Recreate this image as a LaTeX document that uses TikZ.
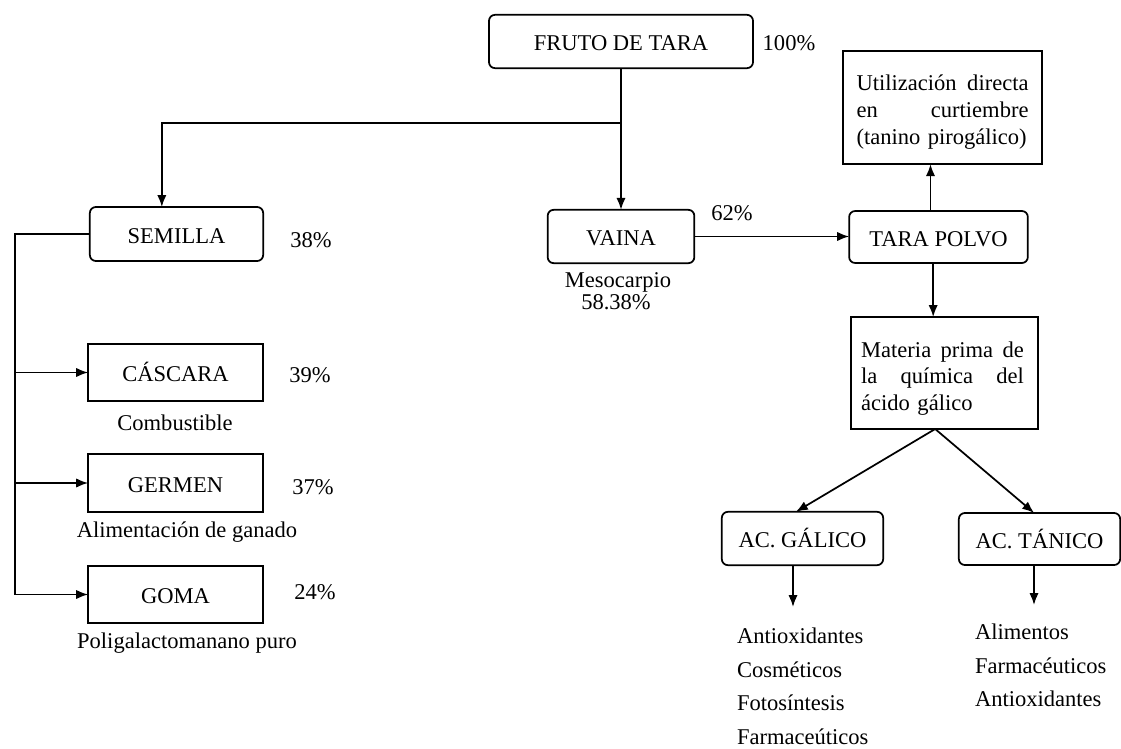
\documentclass[tikz,border=0pt]{standalone}
\usepackage{fontspec}
\setmainfont{Liberation Serif}
\usetikzlibrary{arrows.meta,calc}
\begin{document}
\begin{tikzpicture}[x=0.75pt,y=-0.75pt,
  font=\fontsize{16.9}{20}\selectfont,
  every node/.style={inner sep=0pt,outer sep=0pt},
  rbox/.style={draw,line width=1.3pt,rounded corners=4.5pt,align=center,text height=14pt,text depth=0pt},
  sbox/.style={draw,line width=1.3pt,align=center,text height=14pt,text depth=0pt},
  conn/.style={line width=1.3pt},
  arr/.style={line width=1.3pt,-{Latex[length=9pt,width=7pt]}},
  lst/.style={align=left,anchor=north west,font=\fontsize{16.9}{25.2}\selectfont}]
\useasboundingbox (0,0) rectangle (1121,749);

% main boxes
\node[rbox,minimum width=198pt,minimum height=40pt] (fruto) at (621,41.5) {FRUTO DE TARA};
\node (p100) at (789,43) {100\%};

\node[rbox,minimum width=130pt,minimum height=40.5pt] (semilla) at (176.5,234) {SEMILLA};
\node (p38) at (311,240) {38\%};

\node[rbox,minimum width=110pt,minimum height=40pt] (vaina) at (621,236.5) {VAINA};
\node (p62) at (732,213) {62\%};
\node (meso) at (618,282) {Mesocarpio};
\node (meso2) at (616,302) {58.38\%};

\node[rbox,minimum width=134pt,minimum height=39pt] (polvo) at (938.5,237) {TARA POLVO};

\node[draw,line width=1.3pt,minimum width=149pt,minimum height=85pt] (util) at (942.5,107.5) {};
\node[align=left,text width=129pt] (utilt) at (942.5,112) {Utilizaci\'on\hfill directa\\en\hfill curtiembre\\(tanino pirog\'alico)};

\node[draw,line width=1.3pt,minimum width=140pt,minimum height=84pt] (materia) at (944.5,373) {};
\node[align=left,text width=122pt] (materiat) at (942.5,378.5) {Materia\hfill prima\hfill de\\la\hfill qu\'imica\hfill del\\\'acido g\'alico};

\node[rbox,minimum width=121pt,minimum height=40pt] (galico) at (802.5,538.5) {AC. G\'ALICO};
\node[rbox,minimum width=121pt,minimum height=39pt] (tanico) at (1039.5,539) {AC. T\'ANICO};

% seed parts
\node[sbox,minimum width=131pt,minimum height=43pt] (cascara) at (175.5,372.5) {C\'ASCARA};
\node (p39) at (310,375) {39\%};
\node (comb) at (175,423) {Combustible};

\node[sbox,minimum width=131pt,minimum height=43pt] (germen) at (175.5,483) {GERMEN};
\node (p37) at (313,487) {37\%};
\node (alim) at (187,532) {Alimentaci\'on de ganado};

\node[sbox,minimum width=131pt,minimum height=43pt] (goma) at (175.5,594.5) {GOMA};
\node (p24) at (315,592) {24\%};
\node (poli) at (187,643) {Poligalactomanano puro};

% product lists
\node[lst] (lgal) at (737,628) {Antioxidantes\\Cosm\'eticos\\Fotos\'intesis\\Farmace\'uticos};
\node[lst] (ltan) at (975,624) {Alimentos\\Farmac\'euticos\\Antioxidantes};

% connectors
\coordinate (j1) at (621,123);
\draw[arr] (fruto.south) -- (vaina.north);
\draw[arr] (j1) -| ($(semilla.north west)+(72,0)$);

\coordinate (bt) at (15,234);
\coordinate (bb) at (15,594.5);
\draw[conn] (semilla.west) -- (bt) -- (bb);
\draw[arr] (bt |- cascara.west) -- (cascara.west);
\draw[arr] (bt |- germen.west) -- (germen.west);
\draw[arr] (bb) -- (goma.west);

\draw[arr] (vaina.east) -- (vaina.east -| polvo.west);
\draw[arr] ([xshift=-6]polvo.north) -- ([xshift=-6]polvo.north |- util.south);
\draw[arr] ([xshift=-4]polvo.south) -- ([xshift=-4]polvo.south |- materia.north);

\coordinate (ms) at ([xshift=-7]materia.south);
\draw[arr] (ms) -- ([xshift=-5]galico.north);
\draw[arr] (ms) -- ([xshift=-4]tanico.north);

\coordinate (ge) at (793,607);
\coordinate (te) at (1034,605);
\draw[arr] (galico.south -| ge) -- (ge);
\draw[arr] (tanico.south -| te) -- (te);
\end{tikzpicture}
\end{document}
